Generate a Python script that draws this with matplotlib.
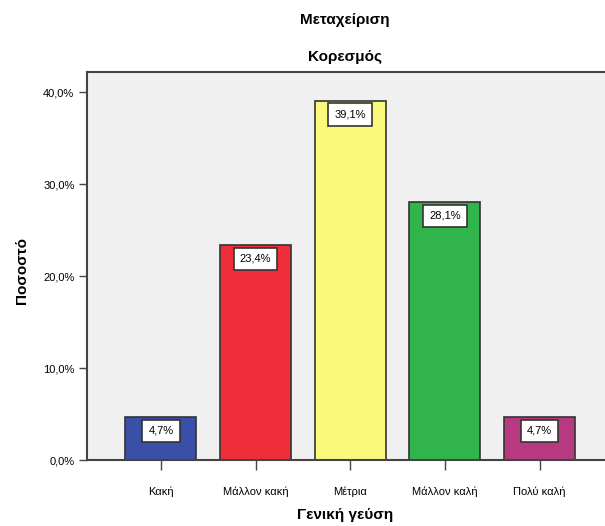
import matplotlib
matplotlib.use("Agg")
import matplotlib.pyplot as plt
import matplotlib.ticker as mticker
import numpy as np

categories = ["Κακή", "Μάλλον κακή", "Μέτρια", "Μάλλον καλή", "Πολύ καλή"]
percents = [4.7, 23.4, 39.1, 28.1, 4.7]
colors = ["#3a4fa8", "#ee2e38", "#fbf97c", "#31b44b", "#b73a80"]
y_ticks = [0, 10, 20, 30, 40]

plt.rcParams["font.family"] = ["Liberation Sans Narrow", "Liberation Sans", "DejaVu Sans"]

fig = plt.figure(figsize=(6.05, 5.26), dpi=100)
fig.patch.set_facecolor("white")
ax = fig.add_axes([87 / 605, 66 / 526, 1 - 87 / 605, (460 - 72) / 526])
ax.set_facecolor("#f0f0f0")

x = np.arange(len(categories))
ax.bar(x, percents, 0.75, color=colors, edgecolor="#333333", linewidth=1.2, zorder=2)

# value boxes hanging just under each bar top
for xi, p in zip(x, percents):
    ax.annotate(f"{p:.1f}%".replace(".", ","), (xi, p), xytext=(0, -6.5),
                textcoords="offset points", ha="center", va="top", fontsize=8,
                bbox=dict(boxstyle="square,pad=0.55", facecolor="white",
                          edgecolor="#333333", linewidth=1.2), zorder=3)

ax.set_xlim(-0.78, 4.69)
ax.set_ylim(0, 42.2)
ax.set_xticks(x)
ax.set_xticklabels(categories, fontsize=8)
ax.set_yticks(y_ticks)
ax.yaxis.set_major_formatter(mticker.FuncFormatter(lambda v, _: f"{v:.1f}%".replace(".", ",")))
ax.tick_params(axis="y", labelsize=8, length=6, width=1.0, color="#444444", pad=3)
ax.tick_params(axis="x", length=7, width=1.0, color="#444444", pad=12)

for side in ["top", "left", "bottom"]:
    ax.spines[side].set_color("#444444")
    ax.spines[side].set_linewidth(1.5)
ax.spines["right"].set_visible(False)

fig.text(345 / 605, 1 - 20 / 526, "Μεταχείριση", ha="center", va="center",
         fontsize=11, fontweight="bold")
fig.text(345 / 605, 1 - 57 / 526, "Κορεσμός", ha="center", va="center",
         fontsize=11, fontweight="bold")
fig.text(22 / 605, 1 - 270 / 526, "Ποσοστό", ha="center", va="center",
         rotation=90, fontsize=11, fontweight="bold")
fig.text(345 / 605, 1 - 515 / 526, "Γενική γεύση", ha="center", va="center",
         fontsize=11, fontweight="bold")

fig.savefig("out.png", dpi=100)
